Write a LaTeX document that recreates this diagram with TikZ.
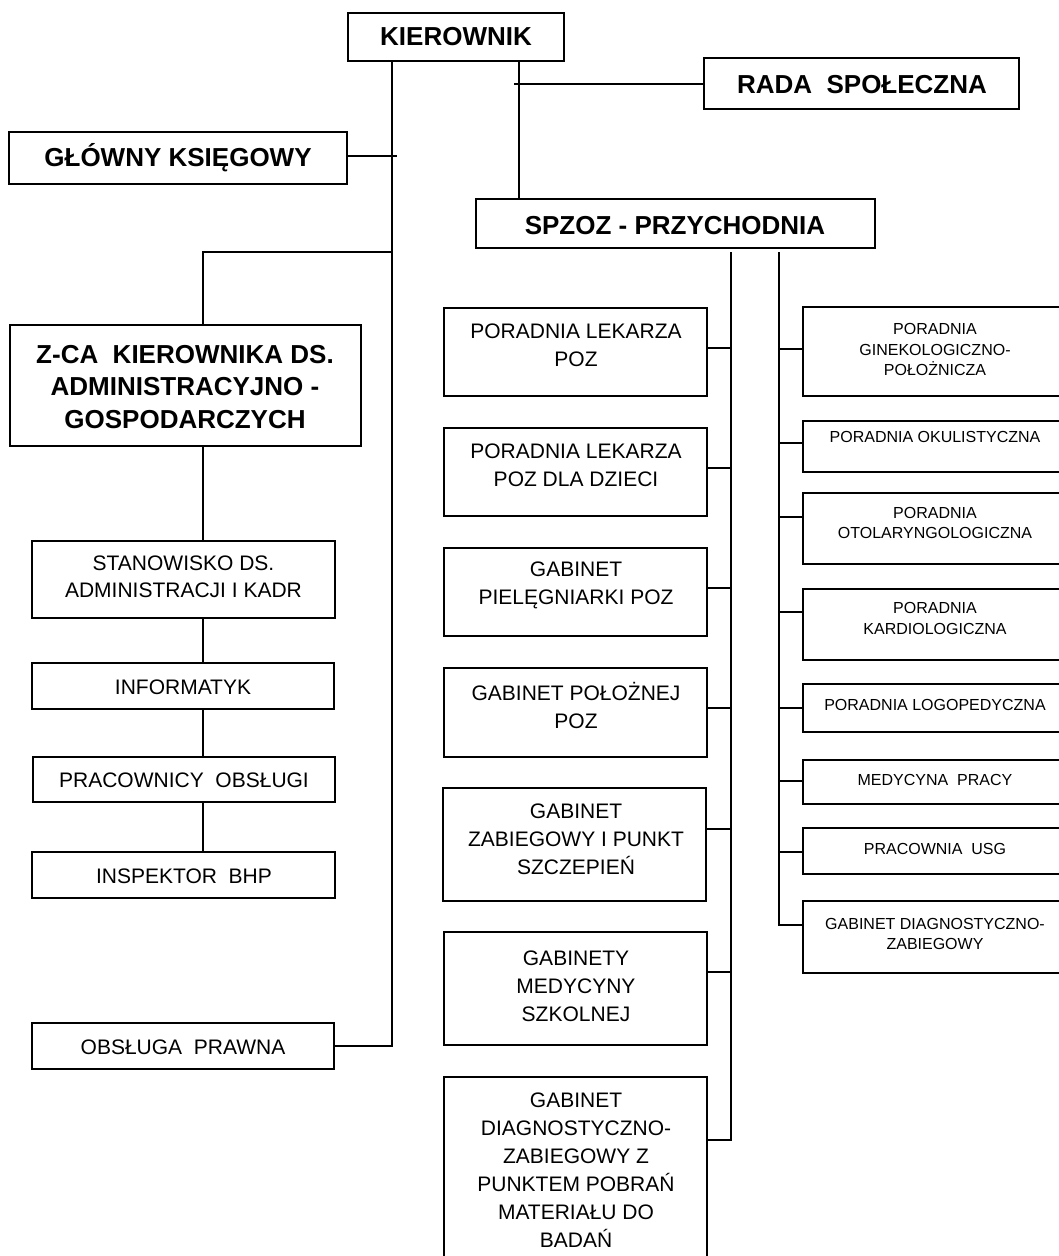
\documentclass[tikz,border=0pt]{standalone}
\usepackage{fontspec}
\setmainfont{Liberation Sans}
\tikzset{
  boxst/.style={draw, line width=1.6pt, inner sep=0pt, rectangle},
  ln/.style={line width=1.5pt},
  ttl/.style={font=\fontsize{26}{32.5}\selectfont\bfseries, align=center, inner sep=0pt},
  midt/.style={font=\fontsize{21}{28}\selectfont, align=center, inner sep=0pt},
  lftt/.style={font=\fontsize{21}{27.5}\selectfont, align=center, inner sep=0pt},
  rgtt/.style={font=\fontsize{16}{20.5}\selectfont, align=center, inner sep=0pt},
}
\newcommand\bx[5]{\node[boxst, minimum width={#4-#2}, minimum height={#5-#3}] (#1) at ({(#2+#4)/2},{(#3+#5)/2}) {};}
\begin{document}
\begin{tikzpicture}[x=1pt, y=-1pt]
\useasboundingbox (0,0) rectangle (1059,1256);
\clip (0,0) rectangle (1059,1256);
% boxes
\bx{kier}{348}{13}{564}{61}
\bx{rada}{704}{58}{1019}{109}
\bx{glow}{9}{132}{347}{184}
\bx{spzoz}{476}{199}{875}{248}
\bx{zca}{10}{325}{361}{446}
\bx{stan}{32}{541}{335}{618}
\bx{info}{32}{663}{334}{709}
\bx{prac}{33}{757}{335}{802}
\bx{insp}{32}{852}{335}{898}
\bx{obsl}{32}{1023}{334}{1069}
\bx{m1}{444}{308}{707}{396}
\bx{m2}{444}{428}{707}{516}
\bx{m3}{444}{548}{707}{636}
\bx{m4}{444}{668}{707}{757}
\bx{m5}{443}{788}{706}{901}
\bx{m6}{444}{932}{707}{1045}
\bx{m7}{444}{1077}{707}{1266}
\bx{r1}{803}{307}{1066}{396}
\bx{r2}{803}{421}{1066}{472}
\bx{r3}{803}{493}{1066}{564}
\bx{r4}{803}{589}{1066}{660}
\bx{r5}{803}{684}{1066}{732}
\bx{r6}{803}{760}{1066}{804}
\bx{r7}{803}{828}{1066}{874}
\bx{r8}{803}{901}{1066}{973}
% texts
\node[ttl] (kier-t) at (456,37) {KIEROWNIK};
\node[ttl] (rada-t) at (862,85) {RADA~ SPOŁECZNA};
\node[ttl] (glow-t) at (178,158) {GŁÓWNY KSIĘGOWY};
\node[ttl] (spzoz-t) at (675,226) {SPZOZ - PRZYCHODNIA};
\node[ttl] (zca-t) at (185,387) {Z-CA~ KIEROWNIKA DS.\\ADMINISTRACYJNO -\\GOSPODARCZYCH};
\node[lftt] (stan-t) at (183.5,577) {STANOWISKO DS.\\ADMINISTRACJI I KADR};
\node[lftt] (info-t) at (183,687) {INFORMATYK};
\node[lftt] (prac-t) at (184,780) {PRACOWNICY~ OBSŁUGI};
\node[lftt] (insp-t) at (184,876) {INSPEKTOR~ BHP};
\node[lftt] (obsl-t) at (183,1047) {OBSŁUGA~ PRAWNA};
\node[midt] (m1-t) at (576,345) {PORADNIA LEKARZA\\POZ};
\node[midt] (m2-t) at (576,465) {PORADNIA LEKARZA\\POZ DLA DZIECI};
\node[midt] (m3-t) at (576,585) {GABINET\\PIELĘGNIARKI POZ};
\node[midt] (m4-t) at (576,705) {GABINET POŁOŻNEJ\\POZ};
\node[midt] (m5-t) at (576,839) {GABINET\\ZABIEGOWY I PUNKT\\SZCZEPIEŃ};
\node[midt] (m6-t) at (576,986) {GABINETY\\MEDYCYNY\\SZKOLNEJ};
\node[midt] (m7-t) at (576,1170) {GABINET\\DIAGNOSTYCZNO-\\ZABIEGOWY Z\\PUNKTEM POBRAŃ\\MATERIAŁU DO\\BADAŃ};
\node[rgtt] (r1-t) at (935,349.5) {PORADNIA\\GINEKOLOGICZNO-\\POŁOŻNICZA};
\node[rgtt] (r2-t) at (935,437) {PORADNIA OKULISTYCZNA};
\node[rgtt] (r3-t) at (935,523) {PORADNIA\\OTOLARYNGOLOGICZNA};
\node[rgtt] (r4-t) at (935,618.5) {PORADNIA\\KARDIOLOGICZNA};
\node[rgtt] (r5-t) at (935,705) {PORADNIA LOGOPEDYCZNA};
\node[rgtt] (r6-t) at (935,780) {MEDYCYNA~ PRACY};
\node[rgtt] (r7-t) at (935,849) {PRACOWNIA~ USG};
\node[rgtt] (r8-t) at (935,934) {GABINET DIAGNOSTYCZNO-\\ZABIEGOWY};
% junction coordinates
\coordinate (tL) at (392,0);
\coordinate (lc) at (203,0);
\coordinate (rc) at (519,0);
\coordinate (gEnd) at (397,156);
\coordinate (zJ) at (392,252);
\coordinate (rJ) at (514,84);
\coordinate (mT) at (731,252);
\coordinate (mB) at (731,1140);
\coordinate (rT) at (779,252);
\coordinate (rB) at (779,925);
% connectors
\draw[ln] (kier.south -| tL) |- (obsl.east);
\draw[ln] (glow.east |- gEnd) -- (gEnd);
\draw[ln] (zJ) -| (zca.north -| lc);
\draw[ln] (zca.south -| lc) -- (stan.north -| lc);
\draw[ln] (stan.south -| lc) -- (info.north -| lc);
\draw[ln] (info.south -| lc) -- (prac.north -| lc);
\draw[ln] (prac.south -| lc) -- (insp.north -| lc);
\draw[ln] (kier.south -| rc) -- (spzoz.north -| rc);
\draw[ln] (rJ) -- (rJ -| rada.west);
\draw[ln] (mT) -- (mB) -- (mB -| m7.east);
\foreach \n/\yy in {m1/348, m2/468, m3/588, m4/708, m5/829, m6/972}
  \draw[ln] (\n.east |- 0,\yy) -- (mT |- 0,\yy);
\draw[ln] (rT) -- (rB) -- (rB -| r8.west);
\foreach \n/\yy in {r1/349, r2/443, r3/517, r4/612, r5/708, r6/781, r7/852}
  \draw[ln] (rT |- 0,\yy) -- (\n.west |- 0,\yy);
\end{tikzpicture}
\end{document}
